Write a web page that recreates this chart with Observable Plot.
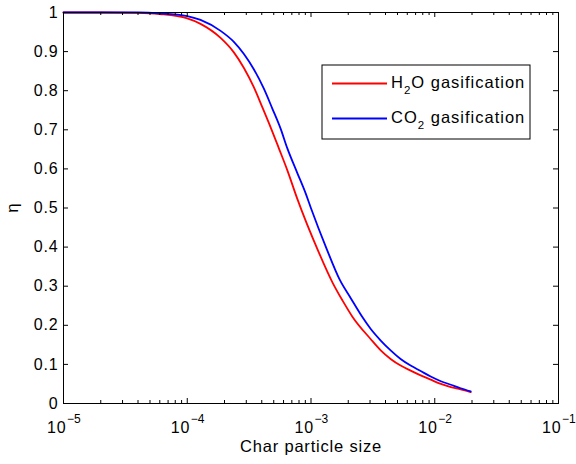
<!DOCTYPE html>
<html><head><meta charset="utf-8">
<script src="https://cdn.jsdelivr.net/npm/d3@7"></script>
<script src="https://cdn.jsdelivr.net/npm/@observablehq/plot@0.6"></script>
<style>
body{margin:0;background:#fff}
svg{font-family:"Liberation Sans",Arial,Helvetica,sans-serif;letter-spacing:0.8px}
</style>
</head><body><div id="chart"></div>
<script>
// H2O gasification (red)
const h2oSize = [1e-5, 2e-5, 4e-5, 6e-5, 1e-4, 1.28e-4, 1.86e-4, 2.38e-4, 2.87e-4, 3.45e-4, 4.04e-4, 4.71e-4, 5.51e-4, 6.43e-4, 7.74e-4, 1.14e-3, 1.5e-3, 1.8e-3, 2.16e-3, 3.03e-3, 3.66e-3, 4.40e-3, 5.30e-3, 6.38e-3, 7.69e-3, 9.27e-3, 1.12e-2, 1.35e-2, 1.62e-2, 1.95e-2];
const h2oEta  = [1.0, 1.0, 0.999, 0.996, 0.985, 0.971, 0.935, 0.898, 0.858, 0.809, 0.758, 0.707, 0.652, 0.597, 0.524, 0.391, 0.308, 0.263, 0.222, 0.165, 0.136, 0.114, 0.097, 0.084, 0.072, 0.061, 0.050, 0.042, 0.036, 0.029];
// CO2 gasification (blue)
const co2Size = [1e-5, 2e-5, 4e-5, 6e-5, 1e-4, 1.28e-4, 1.86e-4, 2.38e-4, 2.87e-4, 3.45e-4, 4.16e-4, 4.86e-4, 5.68e-4, 6.43e-4, 7.74e-4, 9.04e-4, 9.93e-4, 1.34e-3, 1.71e-3, 2.09e-3, 2.60e-3, 3.03e-3, 3.66e-3, 4.40e-3, 5.30e-3, 6.38e-3, 7.69e-3, 9.27e-3, 1.12e-2, 1.35e-2, 1.62e-2, 1.95e-2];
const co2Eta  = [1.0, 1.0, 1.0, 0.998, 0.991, 0.981, 0.953, 0.925, 0.894, 0.855, 0.805, 0.755, 0.703, 0.653, 0.590, 0.538, 0.502, 0.395, 0.316, 0.270, 0.221, 0.191, 0.161, 0.136, 0.114, 0.097, 0.083, 0.069, 0.057, 0.048, 0.039, 0.031];

const xTicks = [1e-5, 1e-4, 1e-3, 1e-2, 1e-1];
const xTickExp = ["\u22125", "\u22124", "\u22123", "\u22122", "\u22121"];
const yTicks = [0, 0.1, 0.2, 0.3, 0.4, 0.5, 0.6, 0.7, 0.8, 0.9, 1];
const yTickLabels = ["0", "0.1", "0.2", "0.3", "0.4", "0.5", "0.6", "0.7", "0.8", "0.9", "1"];
const xLabel = "Char particle size";
const yLabel = "\u03b7";
const legendItems = [
  {pre: "H", sub: "2", post: "O gasification", color: "#ff0000"},
  {pre: "CO", sub: "2", post: " gasification", color: "#0000ff"}
];

const h2o = h2oSize.map((s, i) => ({size: s, eta: h2oEta[i]}));
const co2 = co2Size.map((s, i) => ({size: s, eta: co2Eta[i]}));

const W = 576, H = 464, mL = 63, mR = 18, mT = 12, mB = 61;
const iw = W - mL - mR, ih = H - mT - mB;
const minor = [];
for (const d of xTicks.slice(0, -1)) for (let k = 2; k <= 9; k++) minor.push(k * d);

const svg = Plot.plot({
  width: W, height: H,
  marginLeft: mL, marginRight: mR, marginTop: mT, marginBottom: mB,
  style: {background: "white", color: "black", fontSize: "16px"},
  x: {type: "log", domain: [1e-5, 1e-1], axis: null},
  y: {domain: [0, 1], axis: null},
  marks: [
    Plot.line(h2o, {x: "size", y: "eta", stroke: "#ff0000", strokeWidth: 1.8, curve: "monotone-x"}),
    Plot.line(co2, {x: "size", y: "eta", stroke: "#0000ff", strokeWidth: 1.8, curve: "monotone-x"}),
    Plot.tickX(xTicks, {x: d => d, insetTop: ih - 5}),
    Plot.tickX(xTicks, {x: d => d, insetBottom: ih - 5}),
    Plot.tickX(minor, {x: d => d, insetTop: ih - 3}),
    Plot.tickX(minor, {x: d => d, insetBottom: ih - 3}),
    Plot.tickY(yTicks, {y: d => d, insetRight: iw - 5}),
    Plot.tickY(yTicks, {y: d => d, insetLeft: iw - 5}),
    Plot.frame({stroke: "black"}),
    Plot.text(yTicks, {y: d => d, text: (d, i) => yTickLabels[i], frameAnchor: "left", textAnchor: "end", dx: -5, fontSize: 16}),
    Plot.text(xTicks, {x: d => d, text: () => "10", frameAnchor: "bottom", textAnchor: "end", lineAnchor: "bottom", dx: 3, dy: 29, fontSize: 16}),
    Plot.text(xTicks, {x: d => d, text: (d, i) => xTickExp[i], frameAnchor: "bottom", textAnchor: "start", lineAnchor: "bottom", dx: 3.5, dy: 19, fontSize: 12}),
    Plot.text([xLabel], {text: d => d, frameAnchor: "bottom", lineAnchor: "bottom", dy: 48, fontSize: 16.5})
  ]
});

const s = d3.select(svg);
// exponents without extra letter spacing so the last one stays inside the page
s.selectAll("text").filter(function() { return xTickExp.includes(this.textContent); })
  .style("letter-spacing", "0px");

// y label, rotated like MATLAB
s.append("text")
  .attr("transform", `translate(18,${mT + ih / 2}) rotate(-90)`)
  .attr("text-anchor", "middle")
  .attr("font-size", 17)
  .attr("fill", "black")
  .text(yLabel);

// legend
const lg = s.append("g");
lg.append("rect").attr("x", 322).attr("y", 65).attr("width", 208).attr("height", 74)
  .attr("fill", "white").attr("stroke", "black").attr("stroke-width", 1);
legendItems.forEach((it, i) => {
  const cy = 83.5 + i * 35;
  lg.append("line").attr("x1", 332).attr("x2", 387).attr("y1", cy).attr("y2", cy)
    .attr("stroke", it.color).attr("stroke-width", 1.8);
  const t = lg.append("text").attr("x", 391).attr("y", cy + 4.5)
    .attr("text-anchor", "start").attr("font-size", 16.5).attr("fill", "black")
    .style("letter-spacing", "1px");
  t.append("tspan").text(it.pre);
  t.append("tspan").attr("dy", 6).attr("font-size", 11.5).text(it.sub);
  t.append("tspan").attr("dy", -6).text(it.post);
});

document.getElementById("chart").appendChild(svg);
</script>
</body></html>
